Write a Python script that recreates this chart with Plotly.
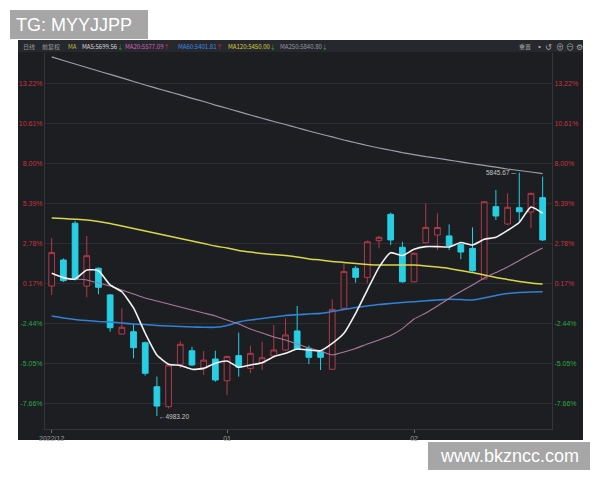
import plotly.graph_objects as go

# ---------------- data ----------------
dates = (
    ["2022-12-%02d" % d for d in [12, 13, 14, 15, 16, 19, 20, 21, 22, 23, 26, 27, 28, 29, 30]]
    + ["2023-01-%02d" % d for d in [3, 4, 5, 6, 9, 10, 11, 12, 13, 16, 17, 18, 19, 20, 30, 31]]
    + ["2023-02-%02d" % d for d in [1, 2, 3, 6, 7, 8, 9, 10, 13, 14, 15, 16]]
)

open_ = [-0.01, 1.69, 4.09, -0.01, 1.15, -0.59, -3.14, -2.99, -3.71, -6.58,
         -7.88, -5.12, -4.23, -5.38, -4.77, -6.19, -4.55, -5.38, -5.01, -4.57,
         -4.18, -2.94, -4.07, -4.29, -5.44, -1.46, 1.15, 0.56, 2.95, 4.67,
         2.52, 0.27, 2.82, 3.32, 3.26, 2.71, 2.45, 0.45, 5.17, 4.04,
         5.10, 4.82, 5.76]
high = [3.11, 1.79, 4.25, 3.26, 1.20, -0.53, -1.46, -2.49, -3.63, -5.92,
        -5.10, -3.60, -3.97, -4.25, -4.23, -4.54, -3.05, -3.90, -3.64, -2.55,
        -2.11, -1.31, -3.90, -4.25, -0.87, 1.47, 1.30, 2.96, 3.26, 4.78,
        2.88, 2.18, 5.39, 4.74, 4.01, 2.77, 3.82, 5.54, 6.26, 6.04,
        7.39, 6.09, 7.13]
low = [-0.59, 0.25, 0.35, -0.74, -0.55, -2.99, -3.17, -4.72, -5.86, -8.49,
       -8.00, -5.36, -5.23, -5.81, -6.25, -7.12, -5.92, -5.70, -5.49, -4.64,
       -4.25, -4.18, -5.10, -5.49, -5.49, -1.51, 0.21, 0.17, 2.45, 2.67,
       0.22, 0.22, 2.77, 2.34, 2.34, 1.74, 0.94, 0.42, 4.30, 3.97,
       4.19, 3.76, 2.93]
close = [2.17, 0.34, 0.43, 1.97, -0.09, -2.73, -2.70, -4.03, -5.70, -7.84,
         -5.16, -3.81, -5.16, -4.84, -6.14, -4.61, -5.31, -4.40, -4.69, -4.18,
         -3.20, -4.14, -4.66, -4.66, -1.53, 0.93, 0.56, 2.88, 3.17, 3.00,
         0.27, 2.13, 3.82, 3.81, 2.64, 2.21, 0.99, 5.49, 4.56, 5.13,
         4.84, 6.04, 3.00]

ma5 = [0.82, 0.54, 0.45, 1.04, 0.99, 0.06, -0.38, -1.44, -3.09, -4.51,
       -5.11, -5.19, -5.44, -5.38, -5.05, -4.90, -5.31, -5.16, -5.01, -4.62,
       -4.40, -4.12, -4.18, -4.23, -3.75, -3.09, -1.79, -0.27, 1.21, 2.17,
       1.98, 2.39, 2.56, 2.56, 2.54, 2.83, 2.67, 3.04, 3.17, 3.62,
       4.14, 5.15, 4.74]
ma20 = [None, None, 0.45, 0.39, 0.19, -0.01, -0.27, -0.53, -0.79, -0.99,
        -1.18, -1.38, -1.57, -1.77, -1.96, -2.23, -2.49, -2.81, -3.07, -3.33,
        -3.53, -3.79, -4.05, -4.25, -4.51, -4.31, -4.08, -3.79, -3.53, -3.24,
        -2.79, -2.16, -1.77, -1.31, -0.82, -0.37, 0.06, 0.52, 0.87, 1.23,
        1.66, 2.08, 2.47]
ma60 = [-1.96, -2.09, -2.19, -2.26, -2.32, -2.36, -2.42, -2.49, -2.52, -2.58,
        -2.62, -2.65, -2.68, -2.70, -2.70, -2.58, -2.36, -2.23, -2.13, -2.03,
        -1.93, -1.88, -1.83, -1.79, -1.67, -1.54, -1.41, -1.31, -1.21, -1.15,
        -1.08, -1.03, -0.97, -0.92, -0.87, -0.89, -0.92, -0.79, -0.63, -0.50,
        -0.43, -0.40, -0.38]
ma120 = [4.43, 4.39, 4.35, 4.30, 4.20, 4.07, 3.91, 3.75, 3.58, 3.42,
         3.26, 3.09, 2.93, 2.77, 2.60, 2.47, 2.31, 2.21, 2.11, 2.05,
         1.98, 1.89, 1.76, 1.69, 1.59, 1.53, 1.46, 1.40, 1.36, 1.36,
         1.36, 1.36, 1.30, 1.23, 1.14, 1.00, 0.87, 0.71, 0.55, 0.42,
         0.29, 0.19, 0.12]
ma250 = [14.94, 14.71, 14.48, 14.25, 14.02, 13.80, 13.57, 13.34, 13.11, 12.89,
         12.68, 12.46, 12.24, 12.03, 11.80, 11.59, 11.37, 11.15, 10.94, 10.73,
         10.53, 10.32, 10.11, 9.91, 9.72, 9.52, 9.34, 9.16, 9.00, 8.85,
         8.70, 8.57, 8.44, 8.33, 8.21, 8.09, 7.97, 7.86, 7.75, 7.63,
         7.53, 7.43, 7.33]

y_ticks = [13.22, 10.61, 8.00, 5.39, 2.78, 0.17, -2.44, -5.05, -7.66]
x_tick_dates = ["2022-12-12", "2023-01-03", "2023-02-01"]
x_tick_text = ["2022/12", "01", "02"]

header_items = [
    ("日线", "#9a9a9a", ""),
    ("前复权", "#9a9a9a", ""),
    ("MA", "#b8b840", ""),
    ("MA5:5699.56", "#d8d8d8", "down"),
    ("MA20:5577.09", "#cc66bb", "up"),
    ("MA60:5401.81", "#3b8be6", "up"),
    ("MA120:5450.00", "#d8cf3c", "down"),
    ("MA250:5840.80", "#9a9aa2", "down"),
]
high_label = "5845.67"
low_label = "4983.20"

# ---------------- style / layout ----------------
W, H = 600, 480
OFF = 8  # page body margin of the html page
PL, PR, PT, PB = 45, 552, 53, 429          # plot area in screen pixels
ML, MT = PL - OFF, PT - OFF
MR, MB = W - (PR - OFF), H - (PB - OFF)
PW, PH = W - ML - MR, H - MT - MB
BG = "#1d1e22"
RED = "#c8343e"
GREEN = "#2aa844"
CYAN = "#27cfe4"
UPLINE = "#b33a49"


def pxx(px):
    return (px - PL) / PW


def pxy(py):
    return (PB - py) / PH


fig = go.Figure()
fig.add_trace(go.Candlestick(
    x=dates, open=open_, high=high, low=low, close=close,
    increasing=dict(line=dict(color=UPLINE, width=1), fillcolor=BG),
    decreasing=dict(line=dict(color=CYAN, width=1), fillcolor=CYAN),
    whiskerwidth=0, showlegend=False, hoverinfo="skip",
))

for vals, col, w in [(ma250, "#9c9ea8", 1.2), (ma120, "#d9d64a", 1.5),
                     (ma60, "#2f82d6", 1.6), (ma20, "#a87a9c", 1.1),
                     (ma5, "#f2f2f2", 1.6)]:
    fig.add_trace(go.Scatter(
        x=dates, y=vals, mode="lines", yaxis="y2",
        line=dict(color=col, width=w, shape="spline", smoothing=0.5),
        showlegend=False, hoverinfo="skip", connectgaps=False,
    ))

tick_text = ['<span style="color:%s">%.2f%%</span>' % (RED if v > 0 else GREEN, v)
             for v in y_ticks]

yr = [-9.337, 15.197]
common_y = dict(range=yr, tickvals=y_ticks, ticktext=tick_text,
                tickfont=dict(size=7, family="Liberation Sans, Arial"),
                zeroline=False, showline=True, linecolor="#34363c", linewidth=1,
                ticks="")

fig.update_layout(
    width=W, height=H,
    margin=dict(l=ML, r=MR, t=MT, b=MB, pad=0),
    paper_bgcolor="white", plot_bgcolor=BG,
    showlegend=False, boxgap=0.3,
    xaxis=dict(type="category", range=[-0.573, 42.8], rangeslider=dict(visible=False),
               tickvals=x_tick_dates, ticktext=x_tick_text, showgrid=False,
               tickfont=dict(size=7, color="#9a9a9a", family="Liberation Sans, Arial"),
               ticks="outside", ticklen=3, tickcolor="#707070",
               showline=True, linecolor="#34363c", zeroline=False),
    yaxis=dict(side="left", showgrid=True, gridcolor="#2b2d32", gridwidth=1, **common_y),
    yaxis2=dict(side="right", overlaying="y", matches="y", showgrid=False, **common_y),
)

shapes = [
    dict(type="rect", xref="paper", yref="paper", x0=pxx(18), x1=pxx(583),
         y0=pxy(440), y1=pxy(40), fillcolor=BG, line=dict(width=0), layer="below"),
    dict(type="rect", xref="paper", yref="paper", x0=pxx(18), x1=pxx(583),
         y0=pxy(52), y1=pxy(40), fillcolor="#27282d", line=dict(width=0), layer="below"),
    dict(type="rect", xref="paper", yref="paper", x0=pxx(10), x1=pxx(148),
         y0=pxy(39), y1=pxy(10), fillcolor="#a6a6a6", line=dict(width=0), layer="above"),
    dict(type="rect", xref="paper", yref="paper", x0=pxx(428), x1=pxx(590),
         y0=pxy(470), y1=pxy(442), fillcolor="#a6a6a6", line=dict(width=0), layer="above"),
]
fig.update_layout(shapes=shapes)

ann = []
hx = [21, 40, 66, 80, 123, 176, 226, 278]
for (txt, col, arrow), x0 in zip(header_items, hx):
    t = txt
    if arrow == "up":
        t += '<span style="color:%s">↑</span>' % RED
    elif arrow == "down":
        t += '<span style="color:%s">↓</span>' % GREEN
    ann.append(dict(xref="paper", yref="paper", x=pxx(x0), y=pxy(46), text=t,
                    showarrow=False, xanchor="left", yanchor="middle",
                    font=dict(size=6, color=col, family="Noto Sans CJK SC, Liberation Sans")))
# right toolbar
for txt, x0, sz in [("重置", 517, 6), ("▪", 534, 7), ("↺", 543, 8), ("⊕", 554, 8),
                    ("⊖", 564, 8), ("⚙", 574, 8)]:
    ann.append(dict(xref="paper", yref="paper", x=pxx(x0), y=pxy(46), text=txt,
                    showarrow=False, xanchor="left", yanchor="middle",
                    font=dict(size=sz, color="#a8a8a8", family="Noto Sans CJK SC, DejaVu Sans")))

# high / low markers
i_hi = high.index(max(high))
i_lo = low.index(min(low))
ann.append(dict(x=dates[i_hi], y=high[i_hi], xref="x", yref="y", text=high_label + " ─",
                showarrow=False, xanchor="right", yanchor="middle", xshift=-1,
                font=dict(size=6.5, color="#c4c4c4", family="Liberation Sans, Arial")))
ann.append(dict(x=dates[i_lo], y=low[i_lo], xref="x", yref="y", text="←" + low_label,
                showarrow=False, xanchor="left", yanchor="middle", xshift=0,
                font=dict(size=6.5, color="#c4c4c4", family="Liberation Sans, Arial")))

# watermarks
ann.append(dict(xref="paper", yref="paper", x=pxx(14), y=pxy(25), text="TG: MYYJJPP",
                showarrow=False, xanchor="left", yanchor="middle",
                font=dict(size=18, color="white", family="Liberation Sans, Arial")))
ann.append(dict(xref="paper", yref="paper", x=pxx(509), y=pxy(456), text="www.bkzncc.com",
                showarrow=False, xanchor="center", yanchor="middle",
                font=dict(size=18, color="white", family="Liberation Sans, Arial")))
fig.update_layout(annotations=ann)

fig.write_html("out.html")
